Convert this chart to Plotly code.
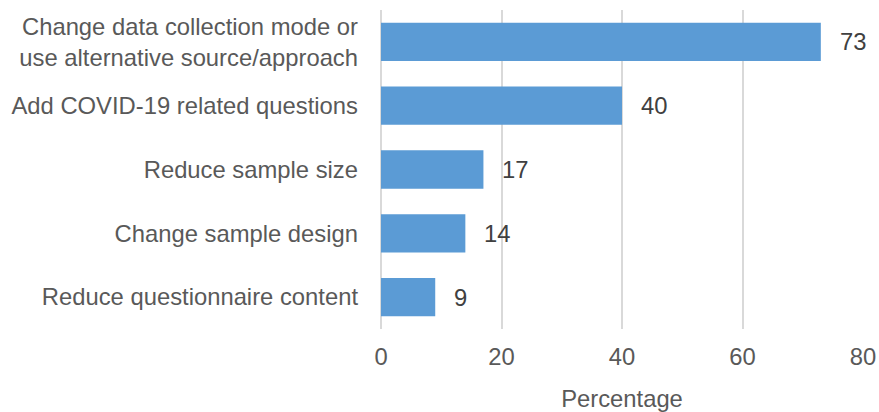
import plotly.graph_objects as go

categories = [
    "Change data collection mode or<br>use alternative source/approach",
    "Add COVID-19 related questions",
    "Reduce sample size",
    "Change sample design",
    "Reduce questionnaire content",
]
values = [73, 40, 17, 14, 9]
tick_vals = [0, 20, 40, 60, 80]

FS = 23.8
fig = go.Figure()
fig.add_trace(go.Bar(
    x=values, y=categories, orientation="h",
    marker=dict(color="#5B9BD5", line=dict(width=0)),
    width=0.6,
    hoverinfo="skip",
))
for v, c in zip(values, categories):
    fig.add_annotation(x=v, y=c, text=str(v), showarrow=False,
                       xanchor="left", xshift=17,
                       font=dict(size=FS, color="#404040", family="Liberation Sans"))

fig.update_layout(
    width=879, height=412,
    margin=dict(l=381, r=16, t=10, b=83),
    paper_bgcolor="white", plot_bgcolor="white",
    font=dict(family="Liberation Sans", size=FS, color="#595959"),
    showlegend=False,
)
fig.update_xaxes(
    range=[0, 80], tickvals=tick_vals, showgrid=True, gridcolor="#d9d9d9", gridwidth=1.5,
    zeroline=True, zerolinecolor="#d9d9d9", zerolinewidth=1.5, showline=False,
    ticks="", ticklabelstandoff=11, automargin=False,
    title=dict(text="Percentage", standoff=21, font=dict(size=FS, color="#595959")),
    tickfont=dict(size=FS, color="#595959"),
)
fig.update_yaxes(
    autorange="reversed", showgrid=False, zeroline=False, showline=False, ticks="",
    ticklabelstandoff=22, tickfont=dict(size=FS, color="#595959"), automargin=False,
)
fig.write_html(
    "out.html",
    config={"displayModeBar": False},
    post_script="document.body.style.margin='0';document.body.style.overflow='hidden';",
)
